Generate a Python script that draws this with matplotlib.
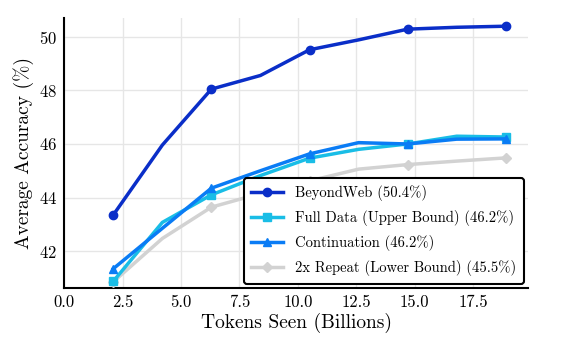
import matplotlib.pyplot as plt

plt.rcParams['font.family'] = 'serif'
plt.rcParams['font.serif'] = ['cmr10', 'DejaVu Serif']
plt.rcParams['mathtext.fontset'] = 'cm'
plt.rcParams['axes.formatter.use_mathtext'] = True

# tokens seen (billions)
tokens = [2.1, 4.2, 6.3, 8.4, 10.5, 12.6, 14.7, 16.8, 18.9]

beyondweb = [43.35, 45.96, 48.05, 48.56, 49.52, 49.89, 50.29, 50.36, 50.40]
full_data = [40.87, 43.07, 44.10, 44.82, 45.47, 45.80, 46.00, 46.29, 46.26]
continuation = [41.34, 42.85, 44.35, 45.00, 45.63, 46.05, 46.00, 46.18, 46.19]
repeat_2x = [40.85, 42.47, 43.64, 44.15, 44.62, 45.06, 45.23, 45.36, 45.48]

labels = ["BeyondWeb (50.4%)",
          "Full Data (Upper Bound) (46.2%)",
          "Continuation (46.2%)",
          "2x Repeat (Lower Bound) (45.5%)"]
colors = ["#0a2ec8", "#19bde6", "#0a7cf5", "#d2d2d2"]
markers = ["o", "s", "^", "D"]

fig = plt.figure(figsize=(5.84, 3.38), dpi=100)
ax = fig.add_axes([0.11, 0.148, 0.794, 0.799])

series = [beyondweb, full_data, continuation, repeat_2x]
# gray first so it sits underneath
order = [3, 1, 2, 0]
handles = [None] * 4
for i in order:
    ms = 6 if markers[i] != "D" else 5
    h, = ax.plot(tokens, series[i], color=colors[i], lw=2.5,
                 marker=markers[i], ms=ms, markevery=2, label=labels[i],
                 zorder=3)
    handles[i] = h

ax.set_xlim(0, 19.85)
ax.set_ylim(40.62, 50.71)
ax.set_xticks([0, 2.5, 5, 7.5, 10, 12.5, 15, 17.5])
ax.set_xticklabels(["0.0", "2.5", "5.0", "7.5", "10.0", "12.5", "15.0", "17.5"])
ax.set_yticks([42, 44, 46, 48, 50])
ax.tick_params(labelsize=12, length=0, pad=5)
ax.grid(True, color="#e6e6e6", lw=1.0, zorder=0)
for s in ["top", "right"]:
    ax.spines[s].set_visible(False)
for s in ["left", "bottom"]:
    ax.spines[s].set_linewidth(1.5)
    ax.spines[s].set_color("black")

ax.set_xlabel("Tokens Seen (Billions)", fontsize=14, labelpad=2)
ax.set_ylabel("Average Accuracy (%)", fontsize=14, labelpad=4)

leg = ax.legend(handles=handles, loc="lower right", fontsize=10.5,
                frameon=True, fancybox=True, framealpha=1,
                edgecolor="black", borderaxespad=0.3, handlelength=2.2,
                labelspacing=0.62, borderpad=0.5)
leg.get_frame().set_linewidth(1.5)

fig.savefig("out.png", dpi=100)
